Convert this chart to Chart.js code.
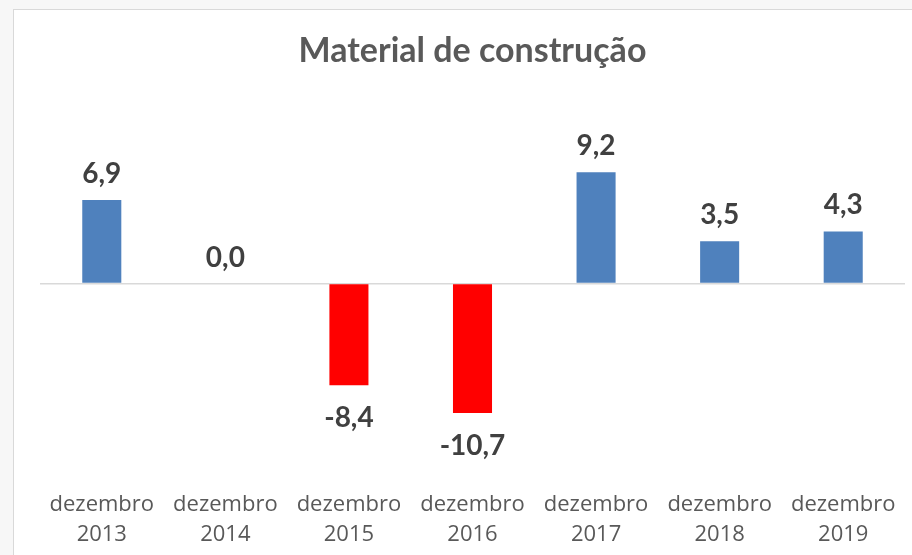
<!DOCTYPE html>
<html>
<head>
<meta charset="utf-8">
<script src="https://cdn.jsdelivr.net/npm/chart.js@4.4.1/dist/chart.umd.min.js"></script>
<style>
  html, body { margin: 0; padding: 0; background: #f7f7f7; overflow: hidden; }
  #box {
    position: absolute; left: 13px; top: 9px;
    width: 898px; height: 545px;
    background: #fff;
    border-left: 1px solid #d9d9d9;
    border-top: 1px solid #d9d9d9;
  }
  canvas { display: block; }
</style>
</head>
<body>
<div id="box"><canvas id="chart" width="898" height="545"></canvas></div>
<script>
const months = ["dezembro", "dezembro", "dezembro", "dezembro", "dezembro", "dezembro", "dezembro"];
const years = ["2013", "2014", "2015", "2016", "2017", "2018", "2019"];
const values = [6.9, 0.0, -8.4, -10.7, 9.2, 3.5, 4.3];

const BLUE = "#4f81bd";
const RED = "#ff0000";

// value labels on top / below each bar, pt-BR decimal comma
const barLabels = {
  id: "barLabels",
  afterDatasetsDraw(chart) {
    const ctx = chart.ctx;
    const meta = chart.getDatasetMeta(0);
    ctx.save();
    ctx.font = "bold 28px Lato";
    ctx.fillStyle = "#404040";
    ctx.textAlign = "center";
    ctx.textBaseline = "alphabetic";
    meta.data.forEach((bar, i) => {
      const v = values[i];
      const txt = v.toFixed(1).replace(".", ",");
      const y = v < 0 ? bar.y + 42 : bar.y - 17;
      ctx.fillText(txt, bar.x, y);
    });
    ctx.restore();
  }
};

new Chart(document.getElementById("chart"), {
  type: "bar",
  data: {
    labels: months.map((m, i) => [m, years[i]]),
    datasets: [{
      data: values,
      backgroundColor: values.map(v => v < 0 ? RED : BLUE),
      barPercentage: 1,
      categoryPercentage: 0.316
    }]
  },
  options: {
    responsive: false,
    animation: false,
    events: [],
    layout: { padding: { left: 26, right: 7, top: 0, bottom: 0 } },
    plugins: {
      legend: { display: false },
      tooltip: { enabled: false },
      title: {
        display: true,
        text: "Material de construção",
        color: "#595959",
        font: { family: "Lato", size: 34, weight: "bold", lineHeight: 1.2 },
        padding: { top: 21, bottom: 18 }
      }
    },
    scales: {
      x: {
        grid: { display: false, drawTicks: false },
        border: { display: false },
        ticks: {
          color: "#595959",
          padding: 36,
          maxRotation: 0,
          autoSkip: false,
          font: { family: "Open Sans", size: 22, lineHeight: 1.4 }
        },
        afterFit(scale) {
          scale.height = 102;
          scale.paddingLeft = 0;
          scale.paddingRight = 0;
        }
      },
      y: {
        min: -14,
        max: 16,
        border: { display: false },
        grid: {
          drawTicks: false,
          lineWidth: 1.5,
          color: c => c.tick && c.tick.value === 0 ? "#d9d9d9" : "rgba(0,0,0,0)"
        },
        ticks: { display: false, stepSize: 2 }
      }
    }
  },
  plugins: [barLabels]
});
</script>
</body>
</html>
